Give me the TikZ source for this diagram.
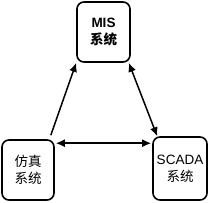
\documentclass[tikz,border=0pt]{standalone}
\usepackage{fontspec}
\setmainfont{Liberation Sans}
\newfontfamily\cjk{Noto Sans CJK SC}
\usetikzlibrary{arrows.meta}
\begin{document}
\begin{tikzpicture}[x=1pt,y=-1pt,
  sysbox/.style={draw,line width=1.6pt,rounded corners=7pt,align=center,inner sep=0pt,
    font=\fontsize{13.5}{17}\selectfont},
  conn/.style={line width=1.5pt,{Latex[length=9pt,width=8pt]}-{Latex[length=9pt,width=8pt]}},
  oneway/.style={line width=1.5pt,-{Latex[length=9pt,width=8pt]}}]
\useasboundingbox (0,0) rectangle (208,202);
\node[sysbox,minimum width=53pt,minimum height=60pt] (mis) at (103.5,32) {\bfseries MIS\\{\cjk\bfseries 系统}};
\node[sysbox,minimum width=52pt,minimum height=60pt] (sim) at (28,170) {{\cjk 仿真}\\{\cjk 系统}};
\node[sysbox,minimum width=54pt,minimum height=63pt] (scada) at (180,168.5) {SCADA\\{\cjk 系统}};
\draw[oneway] ([xshift=-4pt,yshift=4pt]sim.north east) -- (mis.south west);
\draw[conn] ([xshift=-2pt]mis.south east) -- ([xshift=5pt]scada.north west);
\draw[conn] ([xshift=1pt,yshift=-4pt]sim.north east) -- ([xshift=-1pt,yshift=-4pt]sim.north east -| scada.west);
\end{tikzpicture}
\end{document}
